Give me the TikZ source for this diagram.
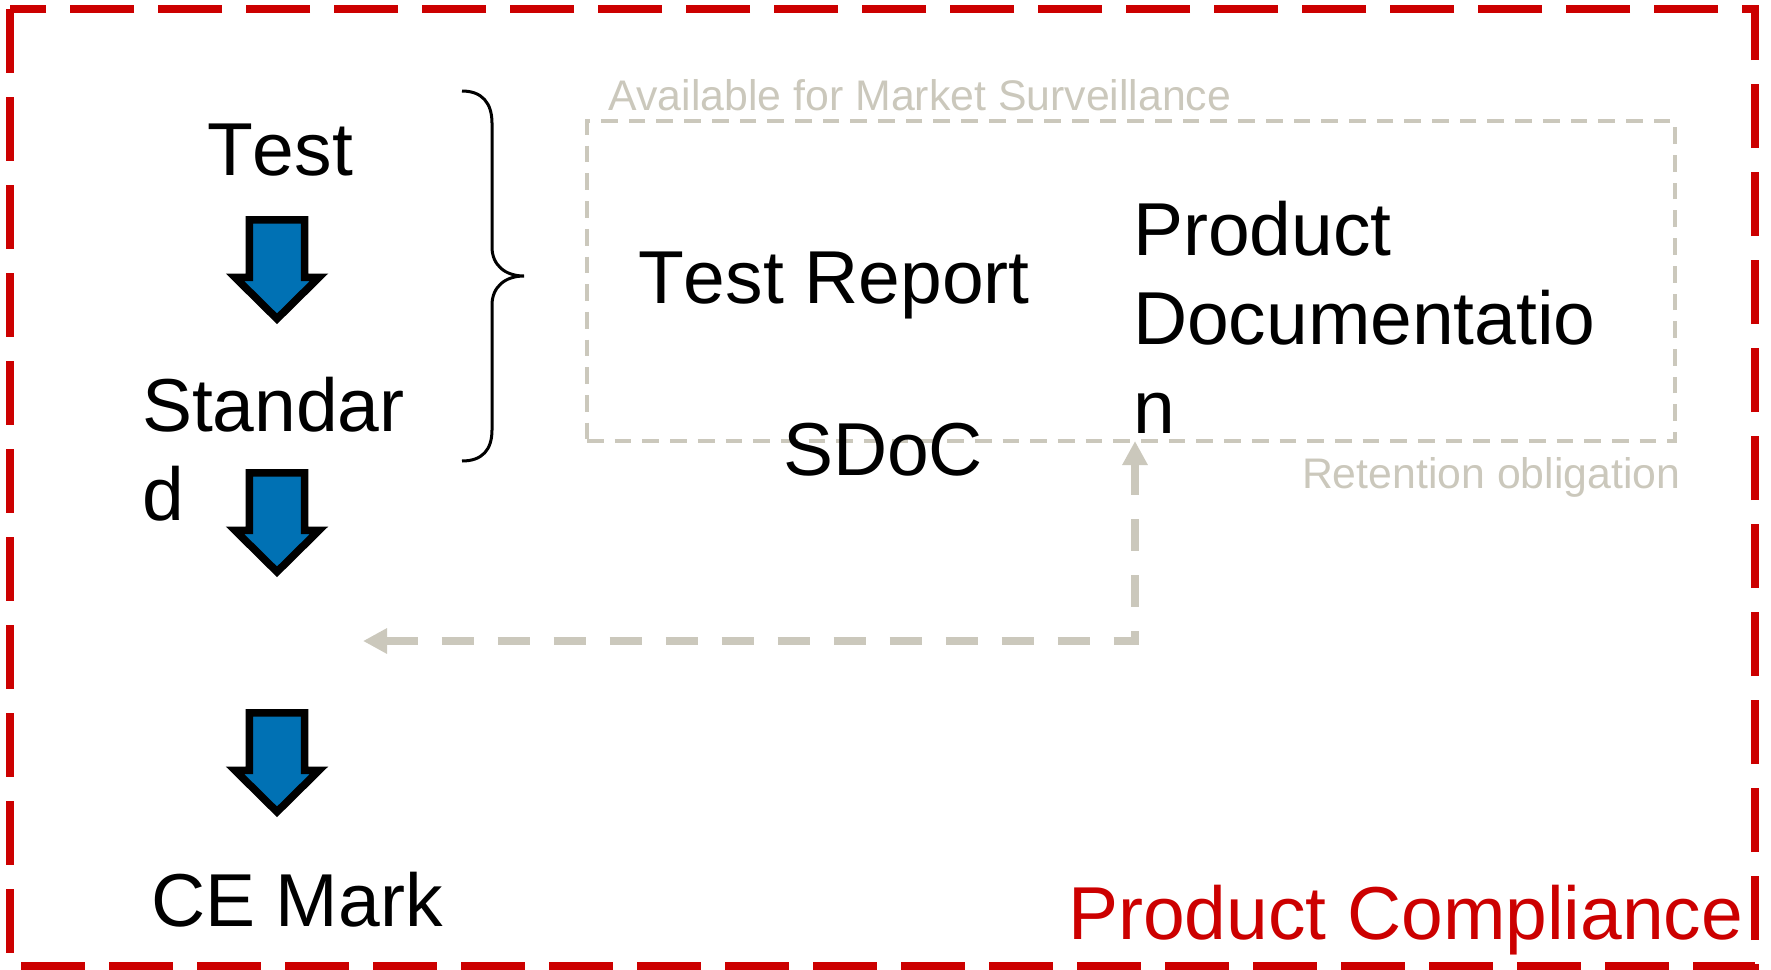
\documentclass[tikz,border=0pt]{standalone}
\usepackage{fontspec}
\setmainfont[Kerning=Off]{Liberation Sans}
\usetikzlibrary{arrows.meta}
\definecolor{pcred}{RGB}{204,0,0}
\definecolor{pcgray}{RGB}{203,200,188}
\definecolor{pcblue}{RGB}{0,113,180}
\begin{document}
\begin{tikzpicture}[x=0.5pt,y=-0.5pt,
  bigtext/.style={font=\fontsize{37.5pt}{44.5pt}\selectfont, inner sep=0pt, outer sep=0pt, anchor=base west, align=left},
  graytext/.style={font=\fontsize{21.4pt}{25pt}\selectfont, text=pcgray, inner sep=0pt, outer sep=0pt, anchor=base west},
  redtext/.style={font=\fontsize{37.5pt}{44.5pt}\selectfont, text=pcred, inner sep=0pt, outer sep=0pt, anchor=base west},
  redborder/.style={draw=pcred, line width=3.75pt, dash pattern=on 32pt off 12pt},
  docframe/.style={draw=pcgray, line width=2pt, dash pattern=on 8.35pt off 5.5pt, minimum width=544pt, minimum height=160pt, inner sep=0pt, outer sep=0pt},
  retline/.style={draw=pcgray, line width=4pt, dash pattern=on 16pt off 12pt, {Triangle[length=12pt,width=12pt]}-{Triangle[length=12pt,width=12pt]}},
  bracestyle/.style={draw=black, line width=1.5pt},
  blockarrow/.pic={\draw[draw=black, fill=pcblue, line width=3.8pt, line join=miter]
    (-27.6,0) -- (27.6,0) -- (27.6,57.5) -- (42,57.5) -- (0,99) -- (-42,57.5) -- (-27.6,57.5) -- cycle;}
]
\useasboundingbox (0,0) rectangle (1771,969);
% outer red frame
\draw[redborder] (10,9) -- (10,966) -- (1755,966) -- (1755,9) -- cycle;
% gray documentation frame
\node[docframe] (docbox) at (1131,281) {};
% brace
\draw[bracestyle] (462,91) .. controls (482,91) and (492,103) .. (492,123) -- (492,247)
  .. controls (492,265) and (505,276) .. (524,276)
  .. controls (505,276) and (492,287) .. (492,305) -- (492,430)
  .. controls (492,450) and (482,461) .. (462,461);
% block arrows
\pic at (277,219.8) {blockarrow};
\pic at (277,472.8) {blockarrow};
\pic at (277,712.8) {blockarrow};
% texts (multi-line nodes are anchored at the baseline of their last line)
\node[bigtext] (test) at (207,175) {Test};
\node[bigtext] (standard) at (142,520) {Standar\\d};
\node[bigtext] (report) at (638,303) {Test Report};
\node[bigtext] (proddoc) at (1133,433) {Product\\Documentatio\\n};
\node[bigtext] (sdoc) at (783,475) {SDoC};
\node[bigtext] (ce) at (151,926) {CE Mark};
\node[redtext] (compliance) at (1068,939) {Product Compliance};
\node[graytext] (avail) at (608,110) {Available for Market Surveillance};
\node[graytext] (retain) at (1302,488) {Retention obligation};
% retention connector
\coordinate (retL) at (363,641);
\coordinate (retC) at (1135,641);
\draw[retline] (retL) -- (retC) -- (retC |- docbox.south);
\end{tikzpicture}
\end{document}
